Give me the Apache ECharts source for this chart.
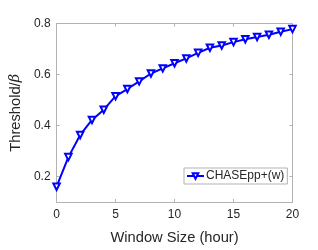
<!DOCTYPE html>
<html>
<head>
<meta charset="utf-8">
<script src="https://cdn.jsdelivr.net/npm/echarts@6/dist/echarts.min.js"></script>
<style>
html,body{margin:0;padding:0;background:#fff;}
#c{width:318px;height:250px;}
</style>
</head>
<body>
<div id="c"></div>
<script>
var windowSizes = [0,1,2,3,4,5,6,7,8,9,10,11,12,13,14,15,16,17,18,19,20];
var thresholdValues = [0.160,0.276,0.363,0.422,0.462,0.515,0.543,0.573,0.604,0.624,0.644,0.663,0.685,0.705,0.714,0.727,0.738,0.747,0.756,0.768,0.778];
var xTicks = [0,5,10,15,20];
var yTicks = [0.2,0.4,0.6,0.8];
var seriesName = 'CHASEpp+(w)';

var chart = echarts.init(document.getElementById('c'), null, {renderer:'canvas'});
var font = 'Liberation Sans, Arial, Helvetica, sans-serif';
var axisGray = '#b3b3b3';
var textCol = '#262626';

var xBase = {
  type:'value', min:0, max:20,
  axisLine:{show:true, onZero:false, lineStyle:{color:axisGray, width:1}},
  splitLine:{show:false}
};
var yBase = {
  type:'value', min:0.1, max:0.8,
  axisLine:{show:true, onZero:false, lineStyle:{color:axisGray, width:1}},
  splitLine:{show:false}
};

chart.setOption({
  animation:false,
  grid:{left:55.5, right:25.5, top:23.5, bottom:45, containLabel:false},
  legend:{
    data:[seriesName],
    left:184, top:168,
    padding:[2,3,2,2],
    itemWidth:17, itemHeight:7, itemGap:0,
    backgroundColor:'#fff',
    borderColor:'#b3b3b3', borderWidth:1, borderRadius:0,
    textStyle:{fontFamily:font, fontSize:12, color:textCol, padding:[0,0,0,-3]}
  },
  xAxis:[
    Object.assign({}, xBase, {
      position:'bottom',
      name:'Window Size (hour)', nameLocation:'middle', nameGap:28,
      nameTextStyle:{fontFamily:font, fontSize:14.7, color:textCol},
      axisTick:{show:true, inside:true, length:3, lineStyle:{color:axisGray}, customValues:xTicks},
      axisLabel:{show:true, margin:7, fontFamily:font, fontSize:12, color:textCol, customValues:xTicks}
    }),
    Object.assign({}, xBase, {
      position:'top',
      axisTick:{show:true, inside:true, length:3, lineStyle:{color:axisGray}, customValues:xTicks},
      axisLabel:{show:false}
    })
  ],
  yAxis:[
    Object.assign({}, yBase, {
      position:'left',
      name:'{a|Threshold/}{b|β}', nameLocation:'middle', nameGap:27, nameRotate:90,
      nameTextStyle:{fontFamily:font, fontSize:14.7, color:textCol,
        rich:{a:{fontFamily:font, fontSize:14.7, color:textCol},
              b:{fontFamily:'DejaVu Serif, serif', fontStyle:'italic', fontSize:14.7, color:textCol}}},
      axisTick:{show:true, inside:true, length:3, lineStyle:{color:axisGray}, customValues:yTicks},
      axisLabel:{show:true, margin:6, fontFamily:font, fontSize:12, color:textCol, customValues:yTicks,
        formatter:function(v){return v.toFixed(1);}}
    }),
    Object.assign({}, yBase, {
      position:'right',
      axisTick:{show:true, inside:true, length:3, lineStyle:{color:axisGray}, customValues:yTicks},
      axisLabel:{show:false}
    })
  ],
  series:[{
    name:seriesName,
    type:'line',
    xAxisIndex:0, yAxisIndex:0,
    data:windowSizes.map(function(x,i){return [x, thresholdValues[i]];}),
    lineStyle:{color:'#0000ff', width:2},
    itemStyle:{color:'#0000ff', borderColor:'#0000ff', borderWidth:1.3},
    symbol:'emptyTriangle', symbolRotate:180, symbolSize:6.5,
    showSymbol:true
  }]
});
</script>
</body>
</html>
